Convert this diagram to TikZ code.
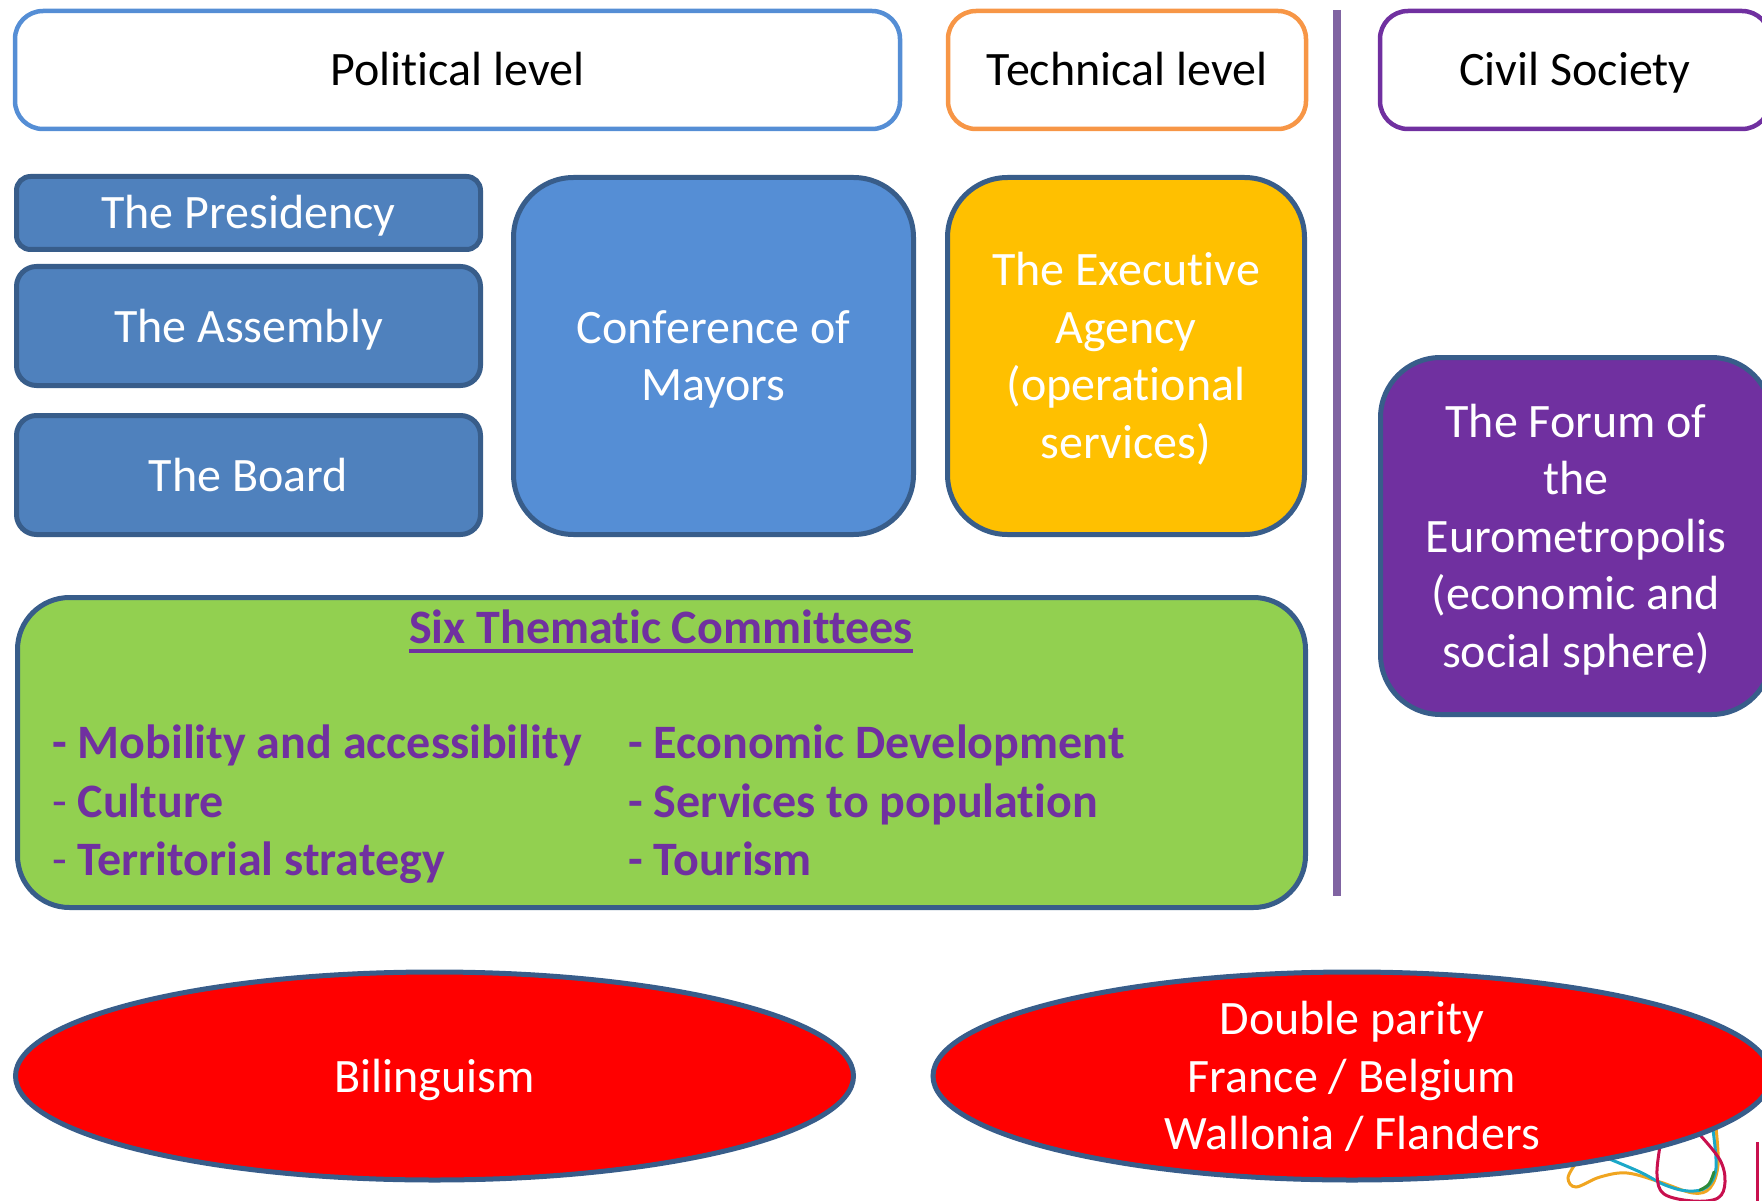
\documentclass[tikz,border=0pt]{standalone}
\usepackage{fontspec}
\setmainfont{Carlito}[Ligatures=NoCommon]
\usetikzlibrary{shapes.geometric}
\definecolor{polBorder}{HTML}{558ED5}
\definecolor{techBorder}{HTML}{F79646}
\definecolor{civBorder}{HTML}{7030A0}
\definecolor{darkBorder}{HTML}{385D8A}
\definecolor{boxBlue}{HTML}{4F81BD}
\definecolor{mayBlue}{HTML}{558ED5}
\definecolor{execFill}{HTML}{FFC000}
\definecolor{forumFill}{HTML}{7030A0}
\definecolor{greenFill}{HTML}{92D050}
\definecolor{redFill}{HTML}{FF0000}
\definecolor{vlineCol}{HTML}{8064A2}
\definecolor{itemCol}{HTML}{7030A0}
\definecolor{logoOrange}{HTML}{F0A520}
\definecolor{logoCyan}{HTML}{1BA8C8}
\definecolor{logoCrimson}{HTML}{C8104E}
\definecolor{logoGreen}{HTML}{2E8B3A}
\newcommand\ls{\rule[-12.75pt]{0pt}{57.5pt}}
\tikzset{
  bigfont/.style={font=\fontsize{48}{57.5}\selectfont},
  headbox/.style={draw, line width=4.5pt, fill=white, rounded corners=28pt, inner sep=0pt, bigfont, text=black},
  unitbox/.style={draw=darkBorder, line width=5pt, inner sep=0pt, bigfont, text=white, align=center},
  itemtext/.style={font=\fontsize{48}{57.5}\selectfont\bfseries, text=itemCol, inner sep=0pt, anchor=base west},
  logoline/.style={line width=3pt, line cap=round},
}
\begin{document}
\begin{tikzpicture}[x=1pt,y=-1pt]
\useasboundingbox (0,0) rectangle (1762,1201);

% header boxes
\node[headbox, draw=polBorder, minimum width=885pt, minimum height=118pt] (pol) at (457.5,70) {\ls Political level};
\node[headbox, draw=techBorder, minimum width=358pt, minimum height=118pt] (tech) at (1127,70) {\ls Technical level};
\node[headbox, draw=civBorder, minimum width=390pt, minimum height=118pt] (civ) at (1575,70) {\ls Civil Society};

% vertical separator
\coordinate (vtop) at (1337,10);
\coordinate (vbot) at (1337,896);
\draw[vlineCol, line width=8pt] (vtop) -- (vbot);

% political bodies
\node[unitbox, fill=boxBlue, rounded corners=14pt, minimum width=464pt, minimum height=73pt] (pres) at (248.5,213) {\ls The Presidency};
\node[unitbox, fill=boxBlue, rounded corners=20pt, minimum width=464pt, minimum height=119pt] (assem) at (248.5,326) {\ls The Assembly};
\node[unitbox, fill=boxBlue, rounded corners=20pt, minimum width=464pt, minimum height=119pt] (board) at (248.5,475) {\ls The Board};
\node[unitbox, fill=mayBlue, rounded corners=60pt, minimum width=400pt, minimum height=357pt] (mayors) at (713.5,356) {\ls Conference of\\\ls Mayors};
\node[unitbox, fill=execFill, rounded corners=60pt, minimum width=357pt, minimum height=357pt] (exec) at (1126,356) {\ls The Executive\\\ls Agency\\\ls (operational\\\ls services)};
\node[unitbox, fill=forumFill, rounded corners=60pt, minimum width=391pt, minimum height=357pt] (forum) at (1576,536) {\ls The Forum of\\\ls the\\\ls Eurometropolis\\\ls (economic and\\\ls social sphere)};

% committees
\node[draw=darkBorder, line width=5pt, fill=greenFill, rounded corners=52pt, minimum width=1288pt, minimum height=310pt, inner sep=0pt] (comm) at (661.5,752.5) {};
\node[font=\fontsize{48}{57.5}\selectfont\bfseries, text=itemCol, inner sep=0pt, anchor=base] (title) at (661,643) {Six Thematic Committees};
\draw[itemCol, line width=4pt] ([yshift=-8pt]title.base west) -- ([yshift=-8pt]title.base east);

\node[itemtext] (mob) at (52,758) {- Mobility and accessibility};
\node[itemtext] (cult) at (52,817) {{\mdseries -} Culture};
\node[itemtext] (terr) at (52,875) {{\mdseries -} Territorial strategy};
\node[itemtext] (econ) at (628,758) {- Economic Development};
\node[itemtext] (serv) at (628,817) {- Services to population};
\node[itemtext] (tour) at (628,875) {- Tourism};

% logo (behind the ellipse)
\draw[logoline, logoOrange] plot[smooth, tension=0.6] coordinates {(1576,1163) (1568,1178) (1576,1187) (1600,1177) (1627,1173) (1660,1182) (1693,1193) (1710,1188) (1718,1165) (1716,1128)};
\draw[logoline, logoCyan] plot[smooth, tension=0.6] coordinates {(1607,1158) (1640,1172) (1665,1185) (1688,1191) (1707,1187) (1716,1168) (1713,1130)};
\draw[logoline, logoCrimson] plot[smooth, tension=0.6] coordinates {(1660,1146) (1657,1175) (1664,1194) (1693,1201) (1718,1198) (1725,1182) (1720,1160) (1700,1135)};
\draw[logoline, logoGreen] plot[smooth, tension=0.6] coordinates {(1700,1190) (1709,1184) (1714,1172)};
\coordinate (mtop) at (1757,1142);
\coordinate (mbot) at (1757,1205);
\draw[logoCrimson, line width=3pt] (mtop) -- (mbot);

% ellipses
\node[shape=ellipse, draw=darkBorder, line width=5pt, fill=redFill, minimum width=838pt, minimum height=208pt, inner sep=0pt] (bil) at (434.5,1076) {};
\node[bigfont, text=white, inner sep=0pt, align=center] (biltext) at (bil.center) {\ls Bilinguism};
\node[shape=ellipse, draw=darkBorder, line width=5pt, fill=redFill, minimum width=838pt, minimum height=208pt, inner sep=0pt] (par) at (1352,1076) {};
\node[bigfont, text=white, inner sep=0pt, align=center] (partext) at (par.center) {\ls Double parity\\\ls France / Belgium\\\ls Wallonia / Flanders};
\end{tikzpicture}
\end{document}
